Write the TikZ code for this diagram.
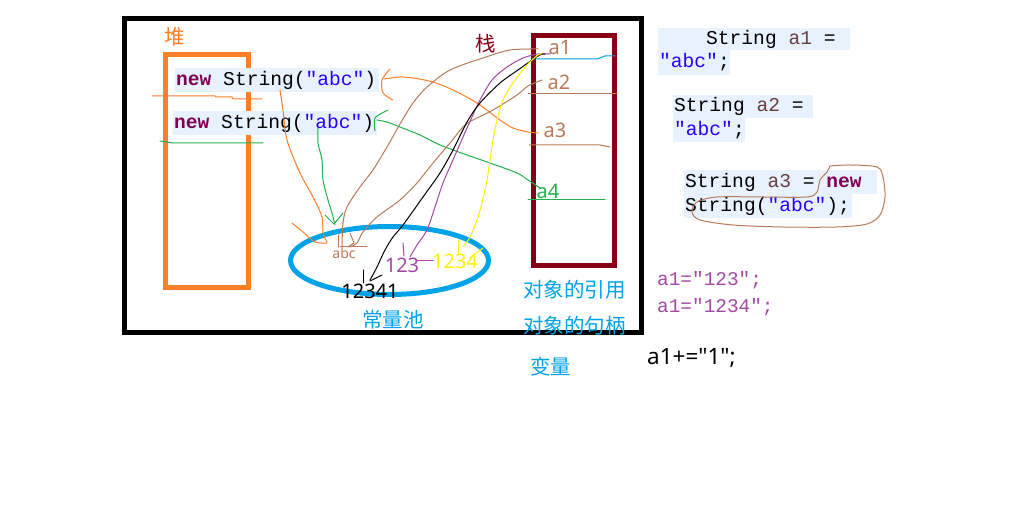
\documentclass[tikz,border=0pt]{standalone}
\usepackage{fontspec}
\setmainfont{Noto Sans}
\newfontfamily\latf{Noto Sans}
\newfontfamily\cjkf{Noto Sans CJK SC}
\newfontfamily\monof{Liberation Mono}
\usetikzlibrary{shapes.geometric}
\definecolor{pOrange}{HTML}{FF7F27}
\definecolor{pRed}{HTML}{880015}
\definecolor{pBlue}{HTML}{00A2E8}
\definecolor{pBrown}{HTML}{B97A57}
\definecolor{pGreen}{HTML}{22B14C}
\definecolor{pPurple}{HTML}{A349A4}
\definecolor{pYellow}{HTML}{FFF200}
\definecolor{codebg}{HTML}{E8F2FE}
\definecolor{kwc}{HTML}{7F0055}
\definecolor{strc}{HTML}{2A00FF}
\definecolor{varc}{HTML}{6A3E3E}
\newcommand{\kwd}[1]{\textcolor{kwc}{\bfseries #1}}
\newcommand{\strl}[1]{\textcolor{strc}{#1}}
\newcommand{\varn}[1]{\textcolor{varc}{#1}}
\newcommand{\msp}{\hspace*{0.6em}}
\begin{document}
\begin{tikzpicture}[x=1pt,y=-1pt,
  frame/.style={draw, line width=5pt, inner sep=0pt, anchor=north west},
  cbox/.style={fill=codebg, inner xsep=1pt, inner ysep=0pt, anchor=north west, align=left,
    font=\monof\fontsize{19.6}{22}\selectfont, text height=14pt, text depth=4pt, minimum height=24pt},
  ink/.style={line width=1pt, line join=round, line cap=round},
  sm/.style={smooth, tension=0.5},
  lbl/.style={font=\fontsize{20}{24}\selectfont, inner sep=0pt},
  cjk/.style={font=\cjkf\fontsize{20.5}{24}\selectfont, inner sep=0pt},
  pcode/.style={font=\monof\fontsize{19.4}{22}\selectfont, text=pPurple, inner sep=0pt, anchor=west},
]
\fill[white] (0,0) rectangle (1036,518);
\useasboundingbox (0,0) rectangle (1036,518);

% containers
\node[frame, minimum width=517.5, minimum height=313.5] (outer) at (121.5,16.5) {};
\node[frame, draw=pOrange, minimum width=83, minimum height=233] (heap) at (162.5,52.5) {};
\node[draw=pBlue, line width=5pt, ellipse, inner sep=0pt, minimum width=198, minimum height=68] (pool) at (389.5,260.5) {};
\node[frame, draw=pRed, minimum width=81, minimum height=230] (stack) at (530.5,33.5) {};

% heap code
\node[cbox, text width=202] (new1) at (175,68) {\kwd{new}\msp String(\strl{"abc"})};
\node[cbox, text width=202] (new2) at (173,111) {\kwd{new}\msp String(\strl{"abc"})};

% labels
\node[cjk, text=pOrange] (heapl) at (175,37) {堆};
\node[cjk, text=pRed] (stackl) at (486,44) {栈};
\node[lbl, text=pBrown] (a1) at (560,47) {a1};
\node[lbl, text=pBrown] (a2) at (559,82) {a2};
\node[lbl, text=pBrown] (a3) at (555,130) {a3};
\node[lbl, text=pGreen] (a4) at (548,191) {a4};
\node[lbl, text=pBrown, font=\fontsize{14}{16}\selectfont] (abc) at (344,253) {abc};
\node[lbl, text=pPurple] (n123) at (402,265) {123};
\node[lbl, text=pYellow] (n1234) at (455,261) {1234};
\node[lbl, text=black] (n12341) at (370,291) {12341};
\node[cjk, text=pBlue] (pooll) at (393,320) {常量池};
\node[cjk, text=pBlue] (ref) at (574.5,290) {对象的引用};
\node[cjk, text=pBlue] (handle) at (574.5,326) {对象的句柄};
\node[cjk, text=pBlue] (varl) at (550.5,367) {变量};

% right code
\node[cbox, text width=190, minimum height=22pt] (c1) at (658,28) {\hspace*{47pt}String\msp\varn{a1}\msp=};
\node[cbox, text width=70, minimum height=25pt] (c2) at (658,50) {\strl{"abc"};};
\node[cbox, text width=138, minimum height=23pt] (c3) at (673,95) {String\msp\varn{a2}\msp=};
\node[cbox, text width=70] (c4) at (673,118) {\strl{"abc"};};
\node[cbox, text width=191] (c5) at (684,170) {String\msp\varn{a3}\msp=\msp\kwd{new}};
\node[cbox, text width=166] (c6) at (684,194) {String(\strl{"abc"});};
\node[pcode] (p1) at (657,280) {a1="123";};
\node[pcode] (p2) at (657,307) {a1="1234";};
\node[lbl, anchor=west, font=\latf\fontsize{22.5}{26}\selectfont] (p3) at (647,358) {a1+="1";};

% stack slot lines
\draw[ink, pBlue] (532,59) -- (597,59) -- (605,56) -- (615,56);
\draw[ink, pBrown] (528,94) -- (617,94);
\draw[ink, pBrown] (529,145) -- (600,145) -- (610,147);
\draw[ink, pGreen] (528,200) -- (605,200);

% heap lines
\draw[ink, pOrange] (152,96) -- (215,96) -- (216,97) -- (232,97) -- (233,99) -- (262,99);
\draw[ink, pGreen] (160,141) -- (173,143) -- (263,143);

% orange scribbles
\draw[ink, pOrange] plot[sm] coordinates {(280,90) (283,110) (287,140) (300,173) (313,197) (322,217) (323,233) (327,242)};
\draw[ink, pOrange] plot[sm] coordinates {(292,223) (303,232) (315,242) (327,243)};
\draw[ink, pOrange] plot[sm] coordinates {(390,69) (382,80) (383,93) (393,100)};
\draw[ink, pOrange] plot[sm] coordinates {(384,79) (400,77) (413,78) (433,82) (453,90) (477,103) (500,120) (513,128) (528,132) (538,133)};

% green scribbles
\draw[ink, pGreen] plot[sm] coordinates {(318,128) (318,143) (322,160) (323,180) (328,200) (332,213) (335,225)};
\draw[ink, pGreen] (325,215) -- (334,224) -- (343,213);
\draw[ink, pGreen] plot[sm] coordinates {(388,110) (375,118) (375,131)};
\draw[ink, pGreen] plot[sm] coordinates {(377,120) (387,122) (400,127) (420,135) (440,145) (467,155) (490,163) (517,173) (528,180) (540,188)};

% brown scribbles
\draw[ink, pBrown] plot[sm] coordinates {(538,49) (510,50) (483,58) (450,70) (427,87) (413,103) (400,124) (387,147) (373,170) (360,187) (347,207) (343,223) (342,247)};
\draw[ink, pBrown] plot[sm] coordinates {(542,80) (528,86) (517,95) (493,110) (473,120) (463,127) (450,143) (433,163) (417,183) (400,200) (377,217) (363,232) (357,243) (350,247)};
\draw[ink, pBrown] (338,235) -- (338,247);
\draw[ink, pBrown] (350,233) -- (354,243) -- (348,247);
\draw[ink, pBrown] (340,247) -- (367,247);

% purple
\draw[ink, pPurple] plot[sm] coordinates {(550,54) (538,54) (523,58) (507,67) (492,80) (480,100) (472,117) (463,137) (453,160) (443,183) (435,207) (427,230) (417,245) (410,257)};
\draw[ink, pPurple] (403,243) -- (404,256);
\draw[ink, pPurple] (417,261) -- (433,261);

% black
\draw[ink, black] plot[sm] coordinates {(545,54) (538,56) (518,70) (500,83) (480,103) (467,122) (453,150) (440,173) (423,197) (403,225) (393,237) (385,250) (377,267) (370,280)};
\draw[ink, black] (363,270) -- (363,283);
\draw[ink, black] (382,275) -- (370,281);

% yellow
\draw[ink, pYellow] plot[sm] coordinates {(542,54) (538,55) (527,65) (513,83) (503,100) (497,120) (493,140) (490,160) (487,180) (482,203) (477,220) (470,237) (463,247)};
\draw[ink, pYellow] (458,240) -- (458,253);
\draw[ink, pYellow] (483,248) -- (470,258);

% loop around a3 code
\draw[ink, pBrown] plot[sm] coordinates {(830,166) (850,165) (877,167) (883,177) (885,197) (880,215) (867,224) (837,227) (783,227) (733,225) (700,220) (692,212) (697,202) (717,197) (763,197) (807,197) (817,192) (820,180) (827,172) (830,166)};
\end{tikzpicture}
\end{document}
